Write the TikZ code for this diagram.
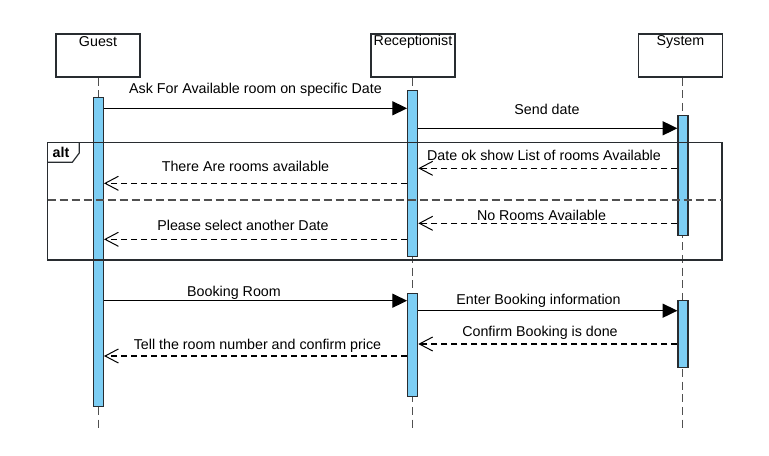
\documentclass[tikz,border=0pt]{standalone}
\usepackage{fontspec}
\setmainfont{Liberation Sans}
\usetikzlibrary{arrows.meta}
\definecolor{barblue}{RGB}{125,206,244}
\definecolor{bord}{RGB}{40,44,48}
\definecolor{life}{RGB}{80,80,80}
\begin{document}
\begin{tikzpicture}[x=0.75pt,y=-0.75pt,
  font=\fontsize{10.7}{12.8}\selectfont,
  actor/.style={draw=bord,line width=0.9pt,fill=white,minimum width=84*0.75pt,minimum height=43*0.75pt,inner sep=0pt},
  actlabel/.style={inner sep=0pt,anchor=center},
  lifeline/.style={draw=life,line width=0.9pt,dash pattern=on 6pt off 3.5pt},
  bar/.style={draw=bord,line width=0.9pt,fill=barblue,minimum width=10*0.75pt,inner sep=0pt},
  msg/.style={draw=black,line width=0.8pt,-{Triangle[length=11pt,width=10.5pt]}},
  reply/.style={draw=black,line width=0.8pt,dash pattern=on 4.5pt off 3pt,-{Straight Barb[length=10pt,width=10.5pt,line width=0.75pt]}},
  lbl/.style={inner sep=0pt,anchor=center},
  frame/.style={draw=bord,line width=0.9pt}
]
\useasboundingbox (0,0) rectangle (769,455);

% actors
\node[actor] (guest) at (98,55.5) {};
\node[actlabel] (guestT) at (98,41.7) {Guest};
\node[actor] (recep) at (413,55.5) {};
\node[actlabel] (recepT) at (413,41.7) {Receptionist};
\node[actor] (sys) at (680.5,55.5) {};
\node[actlabel] (sysT) at (680.5,41.7) {System};

% lifeline ends
\coordinate (gEnd) at (98.5,428);
\coordinate (rEnd) at (412.7,428);
\coordinate (sEnd) at (682.7,428);
\draw[lifeline] (guest.south -| gEnd) -- (gEnd);
\draw[lifeline] (recep.south -| rEnd) -- (rEnd);
\draw[lifeline] (sys.south -| sEnd) -- (sEnd);

% activation bars
\node[bar,minimum height=309*0.75pt] (gb) at (98.4,252.2) {};
\node[bar,minimum height=166*0.75pt] (rb1) at (412.7,173.5) {};
\node[bar,minimum height=120*0.75pt] (sb1) at (683,175.8) {};
\node[bar,minimum height=103*0.75pt] (rb2) at (412.7,345) {};
\node[bar,minimum height=66.5*0.75pt] (sb2) at (683,334) {};

% alt frame
\coordinate (fTL) at (47.5,142.3);
\coordinate (fBR) at (722,260);
\draw[frame] (fTL) rectangle (fBR);
\coordinate (tabR) at (79.3,142.3);
\coordinate (tabB) at (47.5,162.3);
\draw[frame] (tabR) -- (79.3,153) -- (72.3,162.3) -- (tabB);
\node[lbl,font=\fontsize{10.7}{12.8}\selectfont\bfseries] (altT) at (61,152.3) {alt};
\coordinate (dL) at (47.5,200);
\coordinate (dR) at (722,200);
\draw[draw=life,line width=0.9pt,dash pattern=on 6pt off 3pt] (dL) -- (dR);

% messages
\draw[msg] (gb.east |- 0,108.3) -- (rb1.west |- 0,108.3);
\node[lbl] (m1) at (255.5,90) {Ask For Available room on specific Date};
\draw[msg] (rb1.east |- 0,128.3) -- (sb1.west |- 0,128.3);
\node[lbl] (m2) at (547,109) {Send date};
\draw[reply] (sb1.west |- 0,168.3) -- (rb1.east |- 0,168.3);
\node[lbl] (m3) at (544,155) {Date ok show List of rooms Available};
\draw[reply] (rb1.west |- 0,183.3) -- (gb.east |- 0,183.3);
\node[lbl] (m4) at (245.5,166) {There Are rooms available};
\draw[reply] (sb1.west |- 0,223.3) -- (rb1.east |- 0,223.3);
\node[lbl] (m5) at (541.5,215) {No Rooms Available};
\draw[reply] (rb1.west |- 0,239.3) -- (gb.east |- 0,239.3);
\node[lbl] (m6) at (243,225) {Please select another Date};
\draw[msg] (gb.east |- 0,300.7) -- (rb2.west |- 0,300.7);
\node[lbl] (m7) at (234,293) {Booking Room};
\draw[msg] (rb2.east |- 0,310.7) -- (sb2.west |- 0,310.7);
\node[lbl] (m8) at (538.5,301) {Enter Booking information};
\draw[reply] (sb2.west |- 0,344) -- (rb2.east |- 0,344);
\node[lbl] (m9) at (540,333) {Confirm Booking is done};
\draw[reply] (rb2.west |- 0,356) -- (gb.east |- 0,356);
\node[lbl] (m10) at (257.5,346) {Tell the room number and confirm price};
\end{tikzpicture}
\end{document}
